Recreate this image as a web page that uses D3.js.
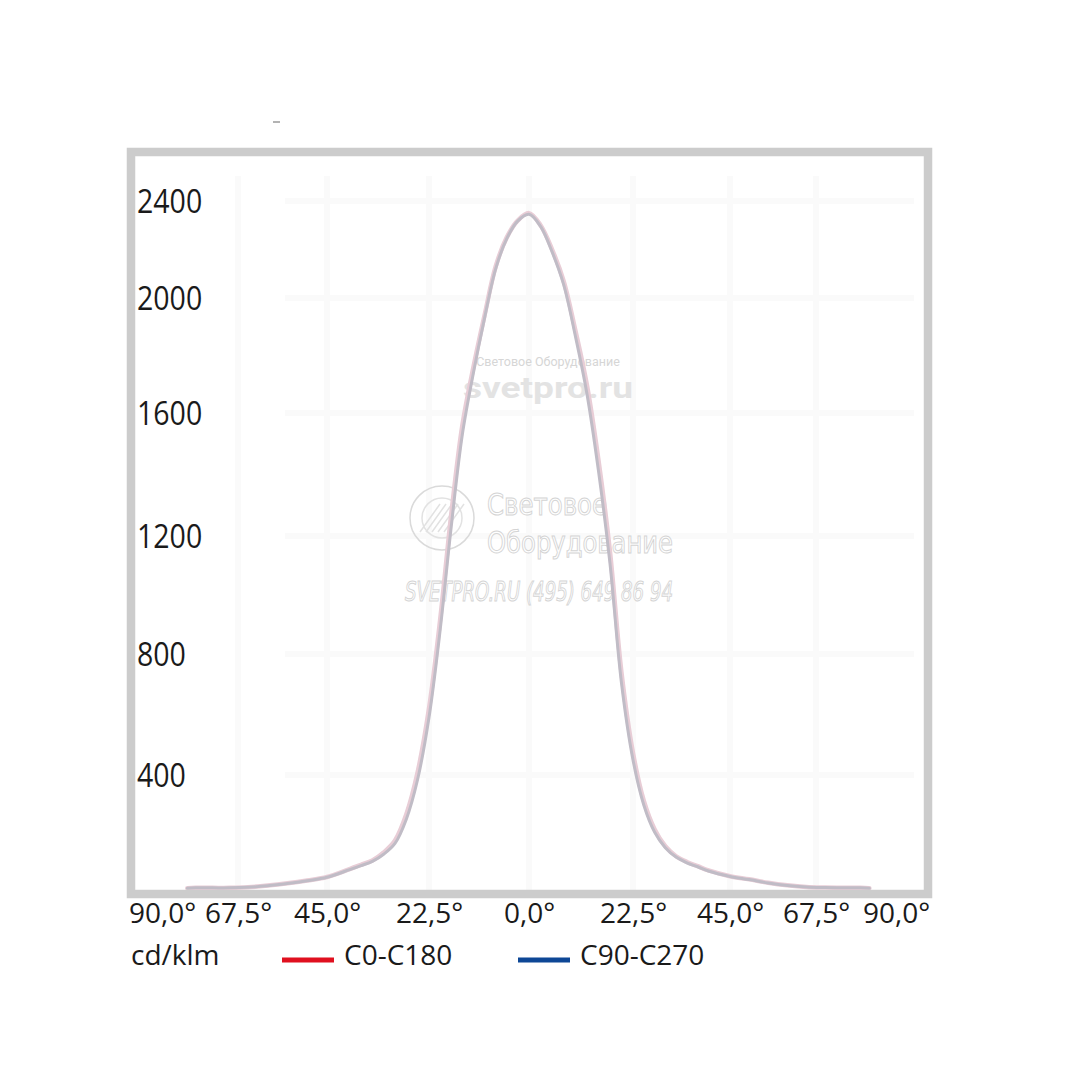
<!DOCTYPE html>
<html>
<head>
<meta charset="utf-8">
<script src="https://cdn.jsdelivr.net/npm/d3@7"></script>
<style>
  html, body { margin: 0; padding: 0; background: #ffffff; }
  svg { display: block; }
</style>
</head>
<body>
<svg id="chart" width="1080" height="1080"></svg>
<script>
// ---------------- data ----------------
const angles = [-82.5,-80,-75,-70,-65,-60,-55,-50,-45,-40,-37.5,-35,-32.5,-30,-27.5,-25,-22.5,-20,-17.5,-15,-12.5,-10,-7.5,-5,-2.5,
  0,2.5,5,7.5,10,12.5,15,17.5,20,22.5,25,27.5,30,32.5,35,37.5,40,45,50,55,60,65,70,75,80,82.5];
const c0c180 = [3,4,4,4,6,12,20,30,42,70,85,100,128,170,262,410,620,915,1270,1560,1760,1940,2130,2250,2320,
  2350,2300,2200,2070,1890,1700,1450,1150,740,473,310,210,150,115,95,80,65,45,34,22,13,7,5,4,4,3];
const c90c270 = [3,4,4,4,6,11,19,29,41,68,82,97,122,160,245,385,590,880,1230,1530,1740,1930,2120,2245,2318,
  2345,2295,2190,2055,1870,1670,1415,1110,705,450,295,200,145,112,92,78,63,44,33,21,12,7,5,4,4,3];
const xTickValues = [-90,-67.5,-45,-22.5,0,22.5,45,67.5,90];
const xTickLabels = ["90,0°","67,5°","45,0°","22,5°","0,0°","22,5°","45,0°","67,5°","90,0°"];
const yTickValues = [400,800,1200,1600,2000,2400];
const yTickLabels = ["400","800","1200","1600","2000","2400"];
const seriesNames = ["C0-C180","C90-C270"];
const unitLabel = "cd/klm";

// ---------------- scales ----------------
const svg = d3.select("#chart");
const x = d3.scaleLinear()
  .domain([-90,-67.5,-45,-22.5,0,22.5,45,67.5,90])
  .range([162,238,327,429,529,633,730,816,896]);
const y = d3.scaleLinear()
  .domain([0,400,800,1200,1600,2000,2400])
  .range([889,775,654,536,413,298,201]);

const plot = {x0: 135, y0: 156, x1: 924, y1: 890};

svg.append("defs").append("clipPath").attr("id","clip")
  .append("rect").attr("x",plot.x0).attr("y",plot.y0)
  .attr("width",plot.x1-plot.x0).attr("height",plot.y1-plot.y0);

// very faint grid
const grid = svg.append("g");
grid.selectAll("line.v").data(xTickValues.slice(1,-1)).join("line")
  .attr("x1",d=>x(d)).attr("x2",d=>x(d)).attr("y1",plot.y0+20).attr("y2",plot.y1)
  .attr("stroke","#fafafa").attr("stroke-width",6);
grid.selectAll("line.h").data(yTickValues).join("line")
  .attr("x1",plot.x0+150).attr("x2",plot.x1-10).attr("y1",d=>y(d)).attr("y2",d=>y(d))
  .attr("stroke","#fafafa").attr("stroke-width",6);

// ---------------- watermarks ----------------
svg.append("text").attr("font-family","Roboto, 'Open Sans', sans-serif")
  .attr("text-anchor","middle").attr("x",548).attr("y",366).attr("font-size",12.5).attr("fill","#d6d6d6")
  .text("Световое Оборудование");
svg.append("text").attr("font-family","Roboto, 'Open Sans', sans-serif")
  .attr("text-anchor","middle").attr("x",548).attr("y",398).attr("font-size",30).attr("font-weight","bold")
  .attr("fill","#e3e3e3").attr("textLength",170).attr("lengthAdjust","spacingAndGlyphs").text("svetpro.ru");

const logo = svg.append("g").attr("transform","translate(442,518)");
logo.append("circle").attr("r",32).attr("fill","none").attr("stroke","#dadada").attr("stroke-width",1.5);
logo.append("circle").attr("r",20).attr("fill","none").attr("stroke","#e2e2e2").attr("stroke-width",1.5);
[-12,-6,0,6,12].forEach(o=>{
  logo.append("line").attr("x1",o-10).attr("y1",14).attr("x2",o+10).attr("y2",-14)
    .attr("stroke","#e2e2e2").attr("stroke-width",1.5);
});
const wmFont = "'DejaVu Sans Condensed','Liberation Sans Narrow', sans-serif";
svg.append("text").attr("font-family",wmFont).attr("fill","#ffffff").attr("stroke","#d4d4d4").attr("stroke-width",1)
  .attr("font-size",31).attr("x",487).attr("y",515)
  .attr("textLength",120).attr("lengthAdjust","spacingAndGlyphs").text("Световое");
svg.append("text").attr("font-family",wmFont).attr("fill","#ffffff").attr("stroke","#d4d4d4").attr("stroke-width",1)
  .attr("font-size",31).attr("x",487).attr("y",553)
  .attr("textLength",186).attr("lengthAdjust","spacingAndGlyphs").text("Оборудование");
svg.append("text").attr("font-family",wmFont).attr("fill","#ffffff").attr("stroke","#d4d4d4").attr("stroke-width",1)
  .attr("x",405).attr("y",601).attr("font-size",26).attr("font-style","italic")
  .attr("textLength",268).attr("lengthAdjust","spacingAndGlyphs").text("SVETPRO.RU    (495) 649 86 94");

// ---------------- curves ----------------
const line = d3.line().x(d=>x(d[0])).y(d=>y(d[1])).curve(d3.curveCatmullRom.alpha(0.5));
const curves = svg.append("g").attr("clip-path","url(#clip)").attr("fill","none")
  .attr("stroke-linejoin","round").attr("stroke-linecap","round");
curves.append("path").datum(angles.map((a,i)=>[a,c0c180[i]]))
  .attr("d",line).attr("stroke","#e8cdd6").attr("stroke-width",4.5);
curves.append("path").datum(angles.map((a,i)=>[a,c90c270[i]]))
  .attr("d",line).attr("stroke","#c0bcc6").attr("stroke-width",3);

// frame
svg.append("rect").attr("x",131).attr("y",152).attr("width",797).attr("height",742)
  .attr("fill","none").attr("stroke","#cccccc").attr("stroke-width",8.5);

// ---------------- axes ----------------
const xAxis = d3.axisBottom(x).tickValues(xTickValues).tickSize(0)
  .tickFormat((d,i)=>xTickLabels[i]);
const gx = svg.append("g").attr("transform","translate(0,898)").call(xAxis);
gx.select(".domain").remove();
gx.selectAll("text").attr("font-family","'Open Sans', sans-serif").attr("font-size",28)
  .attr("fill","#1a1a1a").attr("y",0).attr("dy","25px");

const yAxis = d3.axisLeft(y).tickValues(yTickValues).tickSize(0)
  .tickFormat((d,i)=>yTickLabels[i]);
const gy = svg.append("g").attr("transform","translate(137,0)").call(yAxis);
gy.select(".domain").remove();
gy.selectAll("text").attr("font-family","'Open Sans', sans-serif").attr("font-size",32)
  .attr("fill","#1a1a1a").attr("text-anchor","start").attr("x",0).attr("dy","0.36em")
  .attr("textLength",d=>String(d).length*16.3).attr("lengthAdjust","spacingAndGlyphs");

// ---------------- legend ----------------
const lg = svg.append("g").attr("font-family","'Open Sans', sans-serif").attr("font-size",28).attr("fill","#1a1a1a");
lg.append("text").attr("x",131).attr("y",965).text(unitLabel);
const legColors = ["#e0101f","#0d4796"];
const legX = [282,518];
seriesNames.forEach((n,i)=>{
  lg.append("line").attr("x1",legX[i]).attr("x2",legX[i]+52).attr("y1",960).attr("y2",960)
    .attr("stroke",legColors[i]).attr("stroke-width",5);
  lg.append("text").attr("x",legX[i]+62).attr("y",965).text(n);
});

// small mark at top
svg.append("line").attr("x1",273).attr("x2",280).attr("y1",122).attr("y2",122)
  .attr("stroke","#9a9a9a").attr("stroke-width",1.5);
</script>
</body>
</html>
